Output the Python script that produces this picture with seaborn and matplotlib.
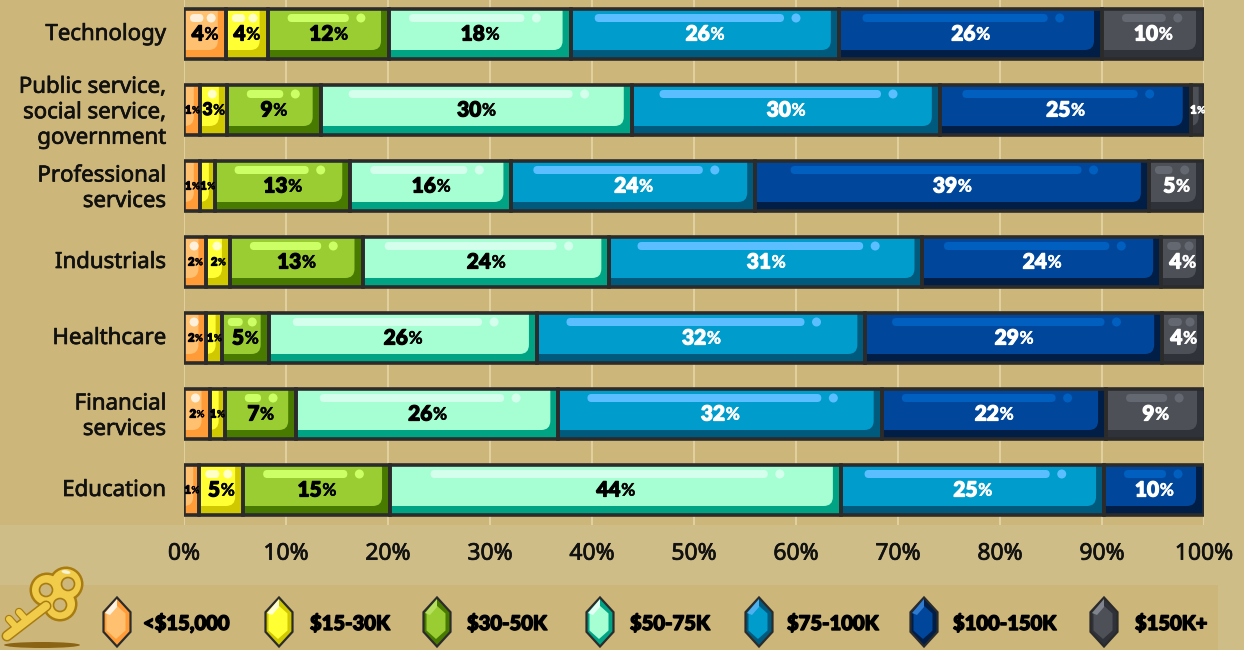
import matplotlib
matplotlib.use('Agg')
from matplotlib import pyplot as plt
from matplotlib import patheffects as pe
from matplotlib.patches import FancyBboxPatch, Rectangle, Polygon, Ellipse, Circle
from matplotlib.transforms import ScaledTranslation
import pandas as pd
import seaborn as sns

sectors = ['Technology', 'Public service,\nsocial service,\ngovernment', 'Professional\nservices',
           'Industrials', 'Healthcare', 'Financial\nservices', 'Education']
bands = ['<$15,000', '$15-30K', '$30-50K', '$50-75K', '$75-100K', '$100-150K', '$150K+']

# widths, the printed labels are rounded differently in places
under_15k = [4.1, 1.6, 1.6, 2.2, 2.2, 2.5, 1.5]
k15_30 = [4.1, 2.6, 1.4, 2.3, 1.5, 1.5, 4.3]
k30_50 = [11.9, 9.2, 13.3, 13.0, 4.6, 7.0, 14.4]
k50_75 = [17.8, 30.5, 15.8, 24.2, 26.3, 25.7, 44.2]
k75_100 = [26.3, 30.2, 23.9, 30.7, 32.2, 31.7, 25.8]
k100_150 = [25.8, 24.6, 38.6, 23.4, 29.1, 22.0, 9.8]
k150_plus = [10.0, 1.3, 5.4, 4.2, 4.2, 9.7, 0.0]
shares = [under_15k, k15_30, k30_50, k50_75, k75_100, k100_150, k150_plus]

labels = [[4, 1, 1, 2, 2, 2, 1],
          [4, 3, 1, 2, 1, 1, 5],
          [12, 9, 13, 13, 5, 7, 15],
          [18, 30, 16, 24, 26, 26, 44],
          [26, 30, 24, 31, 32, 32, 25],
          [26, 25, 39, 24, 29, 22, 10],
          [10, 1, 5, 4, 4, 9, None]]

# shadow, face, highlight, text
gem_colors = [('#ff9c38', '#ffc06f', '#fff0dc', 'black'),
              ('#d0c800', '#ffff33', '#ffffc8', 'black'),
              ('#487a00', '#9acd32', '#ccff66', 'black'),
              ('#00a383', '#a6ffd2', '#d4ffec', 'black'),
              ('#005a7d', '#009ccc', '#5bbfff', 'white'),
              ('#001e46', '#00479b', '#005fbf', 'white'),
              ('#2f3238', '#4d5057', '#646870', 'white')]
gem_tops = ['#fff4e4', '#ffffd8', '#b8e060', '#e4fff4', '#4fb0f0', '#2f7bd0', '#80848c']

page_bg = '#cfbd88'
panel_bg = '#cdb67a'
outline = '#2b2b2b'
label_font = ['Lato', 'DejaVu Sans']

sns.set_theme(style='white')
plt.rcParams['font.family'] = ['Noto Sans', 'DejaVu Sans']

fig = plt.figure(figsize=(12.44, 6.5), dpi=100, facecolor=page_bg)

# pixel sized layer for the panel colour, legend band, gems and key
back = fig.add_axes([0, 0, 1, 1], zorder=0)
back.set_xlim(0, 1244)
back.set_ylim(650, 0)
back.axis('off')
back.add_patch(Rectangle((0, 0), 1204, 525, color=panel_bg, lw=0))
back.add_patch(Rectangle((0, 585), 1218, 65, color=panel_bg, lw=0))

ax = fig.add_axes([184 / 1244, 125 / 650, 1020 / 1244, 525 / 650], zorder=1)
ax.patch.set_alpha(0)

PX = 100 / 1020
PY = 1 / 76

left = [0.0] * len(sectors)
for b, band in enumerate(bands):
    df = pd.DataFrame({'sector': sectors, 'share': shares[b]})
    shadow, face, shine, text_col = gem_colors[b]
    sns.barplot(data=df, y='sector', x='share', order=sectors, left=left, color=shadow,
                saturation=1, width=50 / 76, linewidth=0, ax=ax, zorder=3)
    bars = ax.containers[-1]
    for i, bar in enumerate(bars):
        w = bar.get_width()
        if w <= 0:
            continue
        wpx = w / PX
        x0, y0, h = bar.get_x(), bar.get_y(), bar.get_height()
        inset = min(8, wpx * 0.4)

        top = FancyBboxPatch((x0 - 2, y0 - 0.2), w + 2 - inset * PX, h + 0.2 - 9 * PY,
                             boxstyle='round,pad=0,rounding_size=0.9',
                             mutation_aspect=(1 / 76) / PX, fc=face, ec='none', zorder=4)
        ax.add_patch(top)
        top.set_clip_path(bar)

        # little shine on top of each gem bar
        shine_y = y0 + 9 * PY
        if wpx >= 60:
            margin = 28 + 0.1 * wpx
            start = max(20, 0.09 * wpx)
            pill_w, dot_x = wpx - margin - start, wpx - margin + 12
        elif wpx >= 35:
            start = 6
            pill_w, dot_x = wpx * 0.32, wpx * 0.65
        elif wpx >= 18:
            start, pill_w, dot_x = 0, 0, wpx * 0.45
        else:
            start, pill_w, dot_x = 0, 0, None
        if pill_w:
            ax.add_patch(FancyBboxPatch((x0 + start * PX, shine_y - 4 * PY), pill_w * PX, 8 * PY,
                                        boxstyle='round,pad=0,rounding_size=0.4',
                                        mutation_aspect=(1 / 76) / PX, fc=shine, ec='none', zorder=5))
        if dot_x is not None:
            ax.add_patch(Ellipse((x0 + dot_x * PX, shine_y), 9 * PX, 9 * PY, fc=shine, ec='none', zorder=5))

        ax.add_patch(Rectangle((x0, y0), w, h, fc='none', ec=outline, lw=2.6, zorder=6))

        if labels[b][i] is not None:
            if wpx < 26:
                big, small = 8, 7
            elif wpx < 30:
                big, small = 12.5, 10.5
            else:
                big, small = 15, 12.5
            # centre the number and the smaller % sign together
            num_w = 0.6 * big * len(str(labels[b][i]))
            pct_w = 0.85 * small
            shift = (num_w - pct_w) / 2
            cx, cy = x0 + w / 2, y0 + h / 2
            num = ax.annotate(str(labels[b][i]), (cx, cy), xytext=(shift, 0), textcoords='offset points',
                              ha='right', va='center', fontsize=big, fontweight='black', family=label_font,
                              color=text_col, zorder=7)
            pct = ax.annotate('%', (cx, cy), xytext=(shift + 0.4, -0.5), textcoords='offset points',
                              ha='left', va='center', fontsize=small, fontweight='bold', family=label_font,
                              color=text_col, zorder=7)
            num.set_path_effects([pe.withStroke(linewidth=0.9, foreground=text_col)])
            pct.set_path_effects([pe.withStroke(linewidth=0.3, foreground=text_col)])
    left = [a + c for a, c in zip(left, shares[b])]

ax.set_xlim(0, 100)
ax.set_ylim((525 - 34) / 76, -34 / 76)
ax.set_xlabel('')
ax.set_ylabel('')
ax.set_xticks(range(0, 101, 10))
ax.set_xticklabels([f'{t}%' for t in range(0, 101, 10)])
ax.tick_params(axis='x', length=0, pad=12, labelsize=16.5, labelcolor='#111111')
ax.tick_params(axis='y', length=0, pad=13, labelsize=16, labelcolor='#111111')
for t in ax.get_yticklabels() + ax.get_xticklabels():
    t.set_path_effects([pe.withStroke(linewidth=0.5, foreground='#111111')])
# sector labels sit a touch higher than the bar centres
nudge = ScaledTranslation(0, 2 / 100, fig.dpi_scale_trans)
for t in ax.get_yticklabels():
    t.set_linespacing(1.28)
    t.set_transform(t.get_transform() + nudge)
ax.grid(axis='x', color='#e4d6a8', lw=1.2, zorder=0)
ax.grid(axis='y', visible=False)
ax.set_axisbelow(True)
sns.despine(ax=ax, left=True, bottom=True)

# legend gems
gem_x = [117, 279, 437, 600, 759, 924, 1104]
text_x = [143, 310, 467, 630, 787, 953, 1135]
gem_y = 622


def hexagon(cx, cy, w, h, shoulder=0.4):
    return [(cx, cy - h), (cx + w, cy - h * shoulder), (cx + w, cy + h * shoulder),
            (cx, cy + h), (cx - w, cy + h * shoulder), (cx - w, cy - h * shoulder)]


for b, band in enumerate(bands):
    shadow, face, shine, _ = gem_colors[b]
    cx = gem_x[b]
    back.add_patch(Polygon(hexagon(cx, gem_y, 13.5, 24.5), fc=shadow, ec=outline, lw=1.6))
    back.add_patch(Polygon(hexagon(cx - 1, gem_y, 9.5, 17, 0.5), fc=face, ec='none'))
    back.add_patch(Polygon([(cx, gem_y - 23), (cx - 12, gem_y - 9), (cx - 7, gem_y - 7), (cx, gem_y - 15)],
                           fc=gem_tops[b], ec='none'))
    t = back.text(text_x[b], gem_y + 1, band, ha='left', va='center', fontsize=14.5, fontweight='black',
                  family=label_font, color='black')
    t.set_path_effects([pe.withStroke(linewidth=1.0, foreground='black')])

# key
back.add_patch(Ellipse((42, 645), 76, 6, fc='#8a6414', ec='none'))
gold, rim = '#f0cc4a', '#a87c10'
for col, lw in [(rim, 11), (gold, 8)]:
    back.plot([46, 7], [606, 636], color=col, lw=lw * 0.72, solid_capstyle='round')
    back.plot([17, 9], [628, 619], color=col, lw=lw * 0.55, solid_capstyle='round')
    back.plot([27, 19], [621, 612], color=col, lw=lw * 0.55, solid_capstyle='round')
for cx, cy, r in [(47, 590, 16), (66, 584, 16), (60, 604, 16)]:
    back.add_patch(Circle((cx, cy), r + 1.5, fc=rim, ec='none'))
for cx, cy, r in [(47, 590, 15), (66, 584, 15), (60, 604, 15)]:
    back.add_patch(Circle((cx, cy), r, fc=gold, ec='none'))
for cx, cy, r in [(46, 590, 6.5), (68, 584, 6.5), (60, 605, 6.5)]:
    back.add_patch(Circle((cx, cy), r, fc=panel_bg, ec=rim, lw=1.2))
back.add_patch(Ellipse((66, 572), 9, 3.5, angle=10, fc='#f6f4d8', ec='none'))

fig.savefig('out.png', dpi=100, facecolor=page_bg)
